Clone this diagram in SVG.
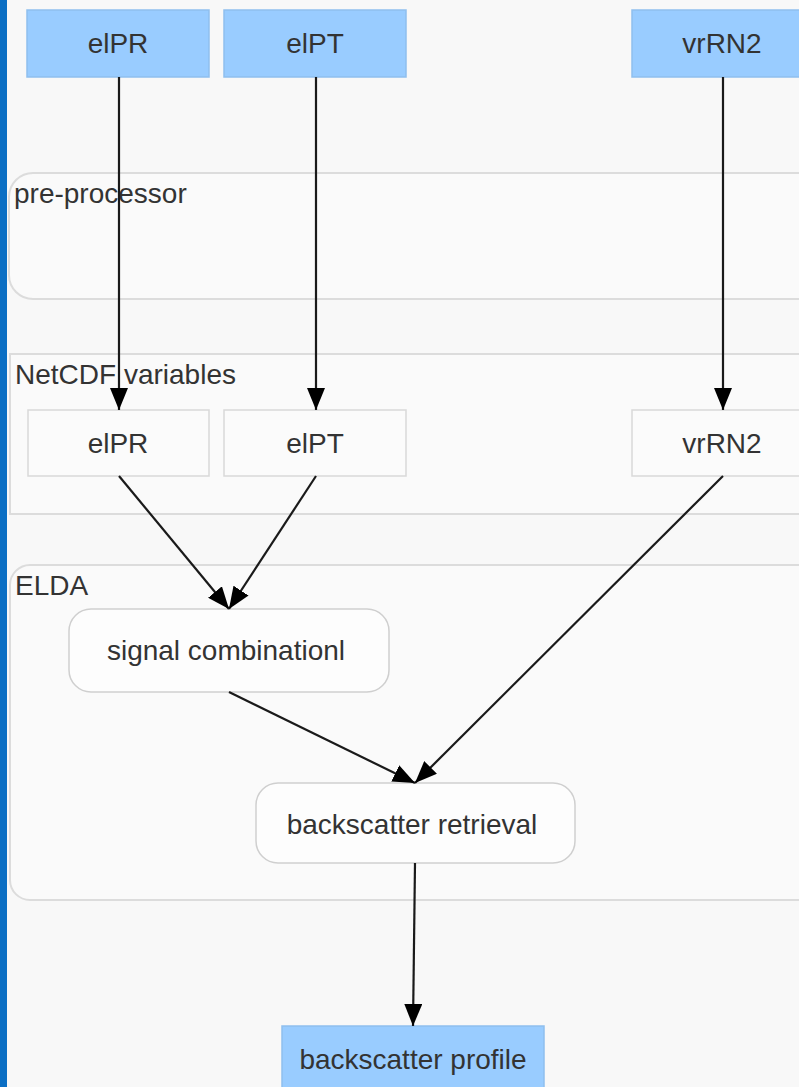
<svg xmlns="http://www.w3.org/2000/svg" width="799" height="1087" viewBox="0 0 799 1087">
<style>
text{font-family:"Liberation Sans",Arial,sans-serif;font-size:28px;fill:#333}
.src{fill:#99ccff;stroke:#8fbfee;stroke-width:1.5}
.var{fill:#fbfbfb;stroke:#d9d9d9;stroke-width:1.5}
.proc{fill:#fdfdfd;stroke:#cfcfcf;stroke-width:1.5}
.region{fill:#fafafa;stroke:#dcdcdc;stroke-width:2}
.edge{stroke:#1a1a1a;stroke-width:2.2;fill:none;marker-end:url(#arr)}
</style>
<defs>
<marker id="arr" markerUnits="userSpaceOnUse" markerWidth="22" markerHeight="18" refX="22" refY="9" orient="auto">
<path d="M0,0 L22,9 L0,18 z" fill="#000"/>
</marker>
</defs>
<rect x="0" y="0" width="799" height="1087" fill="#f8f8f8"/>
<rect x="0" y="0" width="7" height="1087" fill="#0b6fc4"/>
<g id="region-preprocessor">
<rect class="region" x="9" y="173" width="820" height="126" rx="24"/>
<text x="14" y="203">pre-processor</text>
</g>
<g id="region-netcdf">
<rect class="region" x="10" y="354" width="820" height="160"/>
<text x="15" y="384">NetCDF variables</text>
</g>
<g id="region-elda">
<rect class="region" x="10" y="565" width="820" height="335" rx="20"/>
<text x="15" y="595">ELDA</text>
</g>
<g id="src-elPR"><rect class="src" x="27" y="10" width="182" height="67"/><text x="118" y="53" text-anchor="middle">elPR</text></g>
<g id="src-elPT"><rect class="src" x="224" y="10" width="182" height="67"/><text x="315" y="53" text-anchor="middle">elPT</text></g>
<g id="src-vrRN2"><rect class="src" x="632" y="10" width="190" height="67"/><text x="722" y="53" text-anchor="middle">vrRN2</text></g>
<g id="var-elPR"><rect class="var" x="28" y="410" width="181" height="66"/><text x="118" y="453" text-anchor="middle">elPR</text></g>
<g id="var-elPT"><rect class="var" x="224" y="410" width="182" height="66"/><text x="315" y="453" text-anchor="middle">elPT</text></g>
<g id="var-vrRN2"><rect class="var" x="632" y="410" width="190" height="66"/><text x="722" y="453" text-anchor="middle">vrRN2</text></g>
<g id="signal-combination"><rect class="proc" x="69" y="609" width="320" height="83" rx="22"/><text x="226" y="660" text-anchor="middle">signal combinationl</text></g>
<g id="backscatter-retrieval"><rect class="proc" x="256" y="783" width="319" height="80" rx="22"/><text x="412" y="834" text-anchor="middle">backscatter retrieval</text></g>
<g id="backscatter-profile"><rect class="src" x="282" y="1026" width="262" height="80"/><text x="413" y="1069" text-anchor="middle">backscatter profile</text></g>
<g id="connectors">
<line class="edge" x1="119" y1="77" x2="119" y2="410"/>
<line class="edge" x1="316" y1="77" x2="316" y2="410"/>
<line class="edge" x1="723" y1="77" x2="723" y2="410"/>
<line class="edge" x1="119" y1="476" x2="229" y2="609"/>
<line class="edge" x1="316" y1="476" x2="229" y2="609"/>
<line class="edge" x1="229" y1="692" x2="415" y2="783"/>
<line class="edge" x1="723" y1="476" x2="415" y2="783"/>
<line class="edge" x1="415" y1="863" x2="413" y2="1026"/>
</g>
</svg>
